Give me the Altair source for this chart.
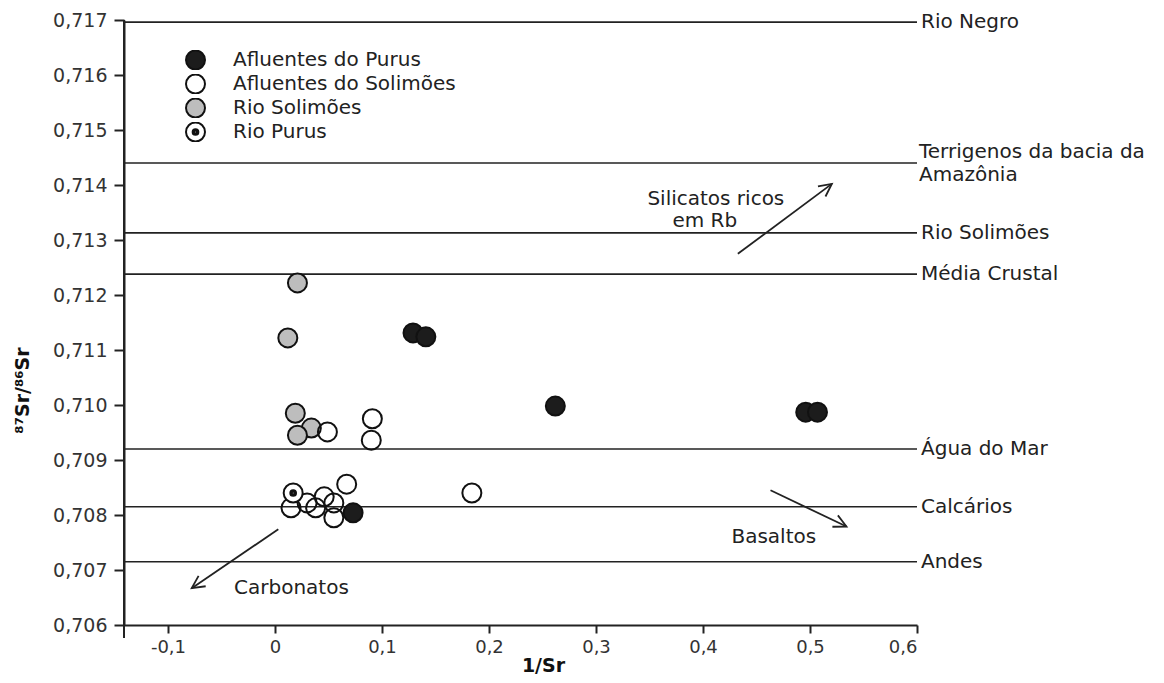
import altair as alt
import pandas as pd

# ---------------- data ----------------
ref_labels = ["Rio Negro", "Rio Solimões", "Média Crustal", "Água do Mar", "Calcários", "Andes"]
ref_values = [0.71696, 0.71313, 0.71238, 0.70920, 0.70815, 0.70715]
ref2_labels = ["Terrigenos da bacia da\nAmazônia"]
ref2_values = [0.71440]

group_names = ["Afluentes do Purus", "Afluentes do Solimões", "Rio Solimões", "Rio Purus"]

rio_solimoes_x = [0.021, 0.012, 0.019, 0.034, 0.021]
rio_solimoes_y = [0.71222, 0.71122, 0.70985, 0.70958, 0.70945]

afl_solimoes_x = [0.049, 0.091, 0.090, 0.067, 0.055, 0.055, 0.046, 0.038, 0.030, 0.015, 0.184]
afl_solimoes_y = [0.70951, 0.70975, 0.70936, 0.70856, 0.70795, 0.70822, 0.70833,
                  0.70813, 0.70822, 0.70813, 0.70840]

afl_purus_x = [0.129, 0.141, 0.262, 0.496, 0.507, 0.073]
afl_purus_y = [0.71131, 0.71124, 0.70998, 0.70987, 0.70987, 0.70804]

rio_purus_x = [0.017]
rio_purus_y = [0.70840]

arrow_x1 = [0.4326, 0.4631, 0.0031]
arrow_y1 = [0.71275, 0.70845, 0.70774]
arrow_x2 = [0.5204, 0.5341, -0.0778]
arrow_y2 = [0.71402, 0.70779, 0.70667]
arrow_angle = [53.3, 115.8, 235.7]

note_text = ["Silicatos ricos", "em Rb", "Basaltos", "Carbonatos"]
note_x = [0.412, 0.4017, 0.4662, 0.0154]
note_y = [0.71375, 0.71334, 0.70760, 0.70667]

x_ticks = [-0.1, 0, 0.1, 0.2, 0.3, 0.4, 0.5, 0.6]
y_ticks = [0.706, 0.707, 0.708, 0.709, 0.710, 0.711, 0.712, 0.713, 0.714, 0.715, 0.716, 0.717]

# ---------------- styling ----------------
W, H = 793, 605
INK = "#222222"
FONT = "DejaVu Sans"
group_fills = ["#1c1c1c", "transparent", "#bdbdbd", "#ffffff"]
group_strokes = ["#111111", "#111111", "#111111", "#111111"]
DOT = ("M1,0A1,1,0,1,1,-1,0A1,1,0,1,1,1,0Z"
       "M0.3,0A0.3,0.3,0,1,1,-0.3,0A0.3,0.3,0,1,1,0.3,0Z"
       "M0.18,0A0.18,0.18,0,1,1,-0.18,0A0.18,0.18,0,1,1,0.18,0Z"
       "M0.06,0A0.06,0.06,0,1,1,-0.06,0A0.06,0.06,0,1,1,0.06,0Z")
group_shapes = ["circle", "circle", "circle", DOT]
ARROW = "M-0.45,0.9L0,0L0.45,0.9"

# ---------------- tables ----------------
rows = []
for name, xs, ys in [("Rio Solimões", rio_solimoes_x, rio_solimoes_y),
                     ("Afluentes do Solimões", afl_solimoes_x, afl_solimoes_y),
                     ("Afluentes do Purus", afl_purus_x, afl_purus_y),
                     ("Rio Purus", rio_purus_x, rio_purus_y)]:
    for a, b in zip(xs, ys):
        rows.append({"x": a, "y": b, "grupo": name})
pts = pd.DataFrame(rows)
pts["ordem"] = range(len(pts))

refs = pd.DataFrame({"y": ref_values, "label": ref_labels})
refs2 = pd.DataFrame({"y": ref2_values, "label": ref2_labels})
arrows = pd.DataFrame({"x": arrow_x1, "y": arrow_y1, "x2": arrow_x2, "y2": arrow_y2, "ang": arrow_angle})
notes = pd.DataFrame({"x": note_x, "y": note_y, "t": note_text})

xscale = alt.Scale(domain=[-0.1411, 0.6], nice=False, zero=False)
yscale = alt.Scale(domain=[0.706, 0.717], nice=False, zero=False)

xaxis = alt.Axis(values=x_ticks, grid=False,
                 labelExpr="datum.value == 0 ? '0' : replace(replace(format(datum.value, '.1f'), '.', ','), '\u2212', '-')",
                 tickSize=8, tickWidth=2, tickColor=INK, domainColor=INK, domainWidth=2,
                 labelFont=FONT, labelFontSize=18, labelColor="#333", labelPadding=5,
                 title="1/Sr", titleFont=FONT, titleFontSize=19, titleFontWeight="bold",
                 titleColor="#111", titleX=419, titleY=40, titleAlign="center",
                 titleBaseline="middle")
yaxis = alt.Axis(values=y_ticks, grid=False,
                 labelExpr="replace(format(datum.value, '.3f'), '.', ',')",
                 tickSize=10, tickWidth=2, tickColor=INK, domainColor=INK, domainWidth=2,
                 labelFont=FONT, labelFontSize=19, labelColor="#333", labelPadding=7,
                 title="\u2078\u2077Sr/\u2078\u2076Sr", titleFont=FONT, titleFontSize=19,
                 titleFontWeight="bold", titleColor="#111", titleX=-102, titleY=370,
                 titleAngle=270, titleAlign="center", titleBaseline="middle")

X = lambda f: alt.X(f, type="quantitative", scale=xscale, axis=xaxis)
Y = lambda f: alt.Y(f, type="quantitative", scale=yscale, axis=yaxis)

legend = alt.Legend(title=None, orient="none", legendX=61, legendY=30, padding=0,
                    labelFont=FONT, labelFontSize=20, labelColor="#222", labelOffset=27,
                    labelLimit=0, rowPadding=4, clipHeight=20, symbolSize=361,
                    symbolStrokeWidth=2, symbolOpacity=1)

ref_lines = alt.Chart(refs).mark_rule(color=INK, strokeWidth=1.7).encode(y=Y("y"))
ref2_lines = alt.Chart(refs2).mark_rule(color=INK, strokeWidth=1.7).encode(y=Y("y"))
ref_text = alt.Chart(refs).mark_text(align="left", baseline="middle", font=FONT, fontSize=20,
                                     color="#222").encode(
    x=alt.value(W + 4), y=Y("y"), text="label:N")
ref2_text = alt.Chart(refs2).mark_text(align="left", baseline="middle", font=FONT, fontSize=20,
                                       lineBreak="\n", lineHeight=23, dy=-11, color="#222").encode(
    x=alt.value(W + 2), y=Y("y"), text="label:N")

axis_ext = alt.Chart(refs).mark_rule(color=INK, strokeWidth=2).encode(
    x=alt.value(0), y=alt.value(0), y2=alt.value(H + 13))

arrow_lines = alt.Chart(arrows).mark_rule(color=INK, strokeWidth=1.8).encode(
    x=X("x"), y=Y("y"), x2="x2:Q", y2="y2:Q")
arrow_heads = alt.Chart(arrows).mark_point(shape=ARROW, filled=False, color=INK, strokeWidth=1.8,
                                           size=784, opacity=1).encode(
    x=X("x2"), y=Y("y2"), angle=alt.Angle("ang:Q", scale=None))
note_marks = alt.Chart(notes).mark_text(align="center", baseline="middle", font=FONT,
                                        fontSize=20, color="#222").encode(
    x=X("x"), y=Y("y"), text="t:N")

points = alt.Chart(pts).mark_point(filled=True, strokeWidth=2, size=361, opacity=1).encode(
    x=X("x"), y=Y("y"),
    fill=alt.Fill("grupo:N", scale=alt.Scale(domain=group_names, range=group_fills), legend=legend),
    stroke=alt.Stroke("grupo:N", scale=alt.Scale(domain=group_names, range=group_strokes), legend=legend),
    shape=alt.Shape("grupo:N", scale=alt.Scale(domain=group_names, range=group_shapes), legend=legend),
    order=alt.Order("ordem:Q"))

chart = alt.layer(ref_lines, ref2_lines, ref_text, ref2_text, axis_ext, arrow_lines, arrow_heads,
                  note_marks, points).properties(
    width=W, height=H,
    padding={"left": 116, "top": 12, "right": 238, "bottom": 50},
    autosize=alt.AutoSizeParams(type="none"),
    background="white",
).configure_view(stroke=None)

chart.save("out.html", embed_options={"renderer": "svg", "actions": False})
